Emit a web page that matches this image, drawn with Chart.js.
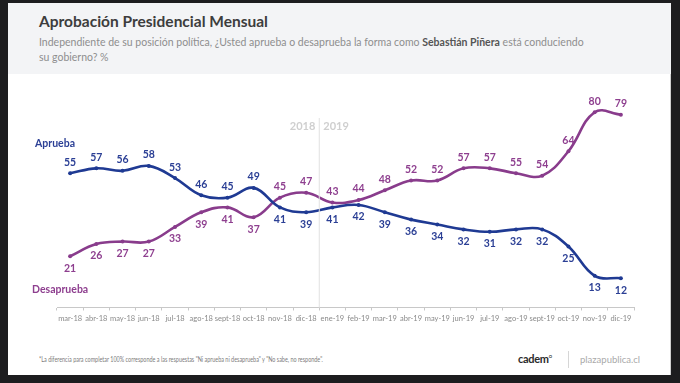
<!DOCTYPE html>
<html>
<head>
<meta charset="utf-8">
<script src="https://cdn.jsdelivr.net/npm/chart.js@4/dist/chart.umd.min.js"></script>
<style>
  html,body{margin:0;padding:0;width:680px;height:383px;overflow:hidden;background:#1d1d1f;font-family:Lato,"Open Sans",sans-serif;}
  #panel{position:absolute;left:8px;top:3px;width:663px;height:372px;background:#ffffff;border-right:1px solid #cfcfcf;box-sizing:border-box;}
  #header{position:absolute;left:8px;top:3px;width:663px;height:71px;background:#f3f4f6;}
  .t{position:absolute;white-space:nowrap;transform-origin:0 0;}
  #title{left:39px;top:12px;font-size:15.5px;font-weight:bold;color:#3d3d3d;}
  #sub{left:39px;top:34px;font-size:11.8px;color:#8e8e8e;line-height:15px;transform:scaleX(0.89);}
  #sub b{color:#555;}
  #foot{left:39px;top:355px;font-size:7px;color:#7a7a7a;transform:scaleX(0.78);}
  #cadem{left:518px;top:352px;font-size:11px;font-weight:bold;color:#2b2b2b;letter-spacing:-0.3px;}
  #cadem sup{font-size:6px;font-weight:normal;}
  #sep{position:absolute;left:568px;top:351px;width:1px;height:17px;background:#d6d6d6;}
  #plaza{left:580px;top:354px;font-size:9.5px;color:#a9a9a9;}
  canvas{position:absolute;left:0;top:0;}
</style>
</head>
<body>
<div id="panel"></div>
<div id="header"></div>
<div class="t" id="title">Aprobación Presidencial Mensual</div>
<div class="t" id="sub">Independiente de su posición política, ¿Usted aprueba o desaprueba la forma como <b>Sebastián Piñera</b> está conduciendo<br>su gobierno? %</div>
<div class="t" id="foot">*La diferencia para completar 100% corresponde a las respuestas "Ni aprueba ni desaprueba" y "No sabe, no responde".</div>
<div class="t" id="cadem">cadem<sup>o</sup></div>
<div id="sep"></div>
<div class="t" id="plaza">plazapublica.cl</div>
<canvas id="c" width="680" height="383"></canvas>
<script>
const months = ['mar-18','abr-18','may-18','jun-18','jul-18','ago-18','sept-18','oct-18','nov-18','dic-18','ene-19','feb-19','mar-19','abr-19','may-19','jun-19','jul-19','ago-19','sept-19','oct-19','nov-19','dic-19'];
const aprueba = [55,57,56,58,53,46,45,49,41,39,41,42,39,36,34,32,31,32,32,25,13,12];
const desaprueba = [21,26,27,27,33,39,41,37,45,47,43,44,48,52,52,57,57,55,54,64,80,79];
const seriesNames = ['Aprueba','Desaprueba'];
const yearLabels = ['2018','2019'];

const BLUE = '#1f3a93';
const PURPLE = '#893c8c';
const BLUE_T = '#2b3f95';
const PURPLE_T = '#8e3f8f';

const overlay = {
  id:'overlay',
  afterDatasetsDraw(chart){
    const ctx = chart.ctx;
    const x = chart.scales.x, y = chart.scales.y;
    const xd = (x.getPixelForValue(9) + x.getPixelForValue(10)) / 2;
    ctx.save();
    ctx.strokeStyle = '#e2e2e2'; ctx.lineWidth = 1;
    ctx.beginPath(); ctx.moveTo(xd, 118); ctx.lineTo(xd, y.getPixelForValue(0)); ctx.stroke();
    ctx.font = 'bold 11px Lato'; ctx.fillStyle = '#cfcfcf'; ctx.textBaseline = 'middle';
    ctx.textAlign = 'right'; ctx.fillText(yearLabels[0], xd - 4, 126);
    ctx.textAlign = 'left'; ctx.fillText(yearLabels[1], xd + 4, 126);
    ctx.font = 'bold 10.5px Lato';
    ctx.fillStyle = BLUE_T; ctx.fillText(seriesNames[0], 35, 144);
    ctx.fillStyle = PURPLE_T; ctx.fillText(seriesNames[1], 32, 290);
    ctx.textAlign = 'center';
    ctx.font = 'bold 10.5px Lato';
    chart.data.datasets.forEach((ds, di) => {
      const meta = chart.getDatasetMeta(di);
      meta.data.forEach((pt, i) => {
        const up = di === 0 ? i < 8 : i >= 8;
        ctx.fillStyle = di === 0 ? BLUE_T : PURPLE_T;
        ctx.fillText(String(ds.data[i]), pt.x, pt.y + (up ? -11 : 12));
      });
    });
    ctx.restore();
  }
};

new Chart(document.getElementById('c'), {
  type:'line',
  data:{
    labels: months,
    datasets:[
      {label:seriesNames[0], data:aprueba, borderColor:BLUE, backgroundColor:BLUE, borderWidth:2.6, pointRadius:2, pointBorderWidth:0, tension:0.4},
      {label:seriesNames[1], data:desaprueba, borderColor:PURPLE, backgroundColor:PURPLE, borderWidth:2.6, pointRadius:2, pointBorderWidth:0, tension:0.4}
    ]
  },
  options:{
    responsive:false, animation:false,
    layout:{padding:{left:57, right:46, top:100, bottom:55.5}},
    plugins:{legend:{display:false}, tooltip:{enabled:false}},
    scales:{
      x:{
        offset:true,
        grid:{display:true, drawOnChartArea:false, offset:true, color:'#c8c8c8', tickLength:3},
        border:{display:true, color:'#c8c8c8', width:1},
        ticks:{font:{family:'Lato', size:7.5}, color:'#8a8a8a', padding:4, maxRotation:0, autoSkip:false},
        afterFit(s){ s.height = 20; }
      },
      y:{display:false, min:0, max:85}
    }
  },
  plugins:[overlay]
});
</script>
</body>
</html>
